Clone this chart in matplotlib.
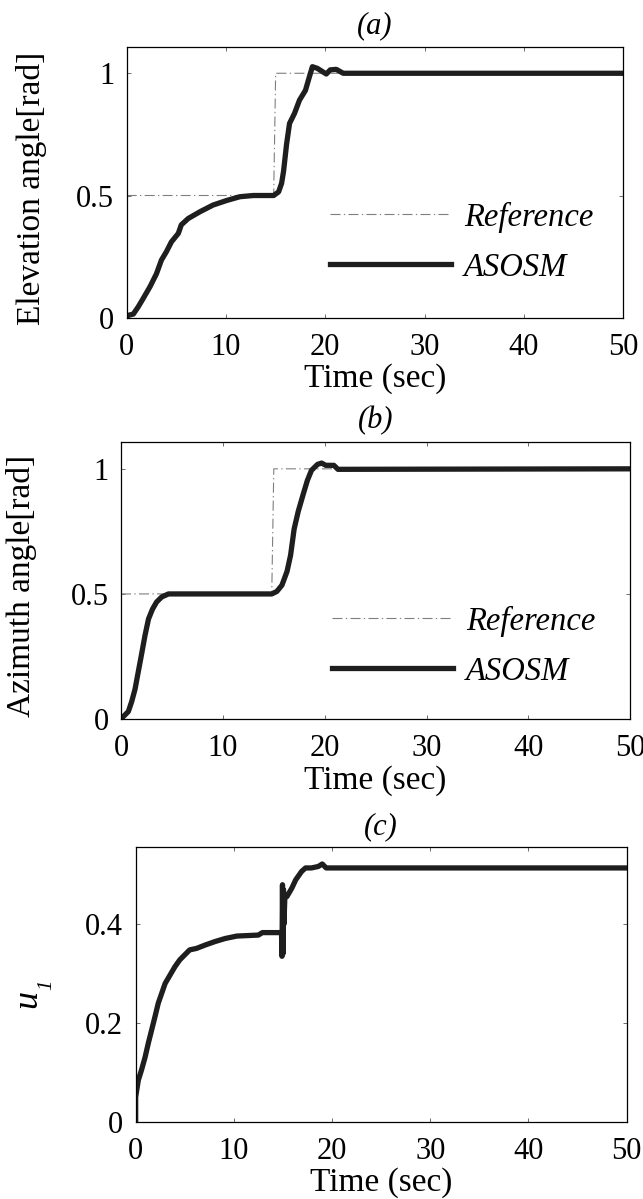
import numpy as np
import matplotlib
matplotlib.use('Agg')
import matplotlib.pyplot as plt

plt.rcParams['font.family'] = ['Liberation Serif', 'DejaVu Serif']

# referencia escalon (igual en ambos angulos)
ref_t = [0, 14.8, 15.0, 50]
ref_y = [0.5, 0.5, 1.0, 1.0]

# angulo de elevacion con ASOSM
elev_t = [0, 0.17, 0.67, 1.17, 1.68, 2.35, 3.0, 3.5, 4.0, 4.5, 5.2, 5.5, 6.2, 7.4,
          8.7, 10.1, 11.4, 12.75, 14.8, 15.3, 15.6, 15.8, 16.1, 16.4, 16.9, 17.4,
          18.0, 18.4, 18.7, 19.2, 20.1, 20.5, 21.1, 21.5, 21.8, 50]
elev_y = [0, 0.01, 0.015, 0.045, 0.08, 0.127, 0.18, 0.236, 0.27, 0.31, 0.345, 0.38,
          0.406, 0.434, 0.461, 0.48, 0.495, 0.5, 0.5, 0.515, 0.55, 0.60, 0.71, 0.795,
          0.836, 0.89, 0.93, 0.986, 1.027, 1.02, 0.997, 1.014, 1.016, 1.007, 1.0, 1.0]

# angulo de azimut con ASOSM
azim_t = [0, 0.23, 0.72, 1.05, 1.38, 1.7, 2.0, 2.36, 2.7, 3.1, 3.5, 4.0, 4.66, 14.8,
          15.3, 15.8, 16.3, 16.65, 17.0, 17.4, 17.9, 18.3, 18.7, 19.3, 19.7, 20.1,
          20.9, 21.3, 50]
azim_y = [0, 0.01, 0.03, 0.07, 0.12, 0.19, 0.255, 0.335, 0.40, 0.44, 0.468, 0.488,
          0.5, 0.5, 0.51, 0.535, 0.59, 0.655, 0.76, 0.83, 0.90, 0.954, 0.994, 1.018,
          1.023, 1.014, 1.014, 0.998, 1.0]

# senal de control u1
u1_t = [0, 0, 0.27, 0.6, 0.95, 1.3, 1.63, 1.97, 2.3, 2.65, 3.0, 3.5, 4.0, 4.5, 5.0,
        5.5, 6.2, 7.1, 8.1, 9.1, 10.3, 12.5, 12.9, 14.85, 14.9, 14.95, 15.0, 15.05,
        15.1, 15.2, 15.4, 15.9, 16.3, 16.9, 17.3, 17.9, 18.6, 19.0, 19.4, 50]
u1_y = [0, 0.05, 0.084, 0.105, 0.13, 0.16, 0.186, 0.213, 0.24, 0.26, 0.28, 0.297,
        0.314, 0.328, 0.338, 0.348, 0.351, 0.358, 0.365, 0.371, 0.376, 0.378, 0.383,
        0.383, 0.335, 0.48, 0.34, 0.47, 0.40, 0.46, 0.456, 0.473, 0.49, 0.507, 0.514,
        0.514, 0.517, 0.522, 0.514, 0.514]

FS = 22
LFS = 24
dash = (0, (9, 3, 1.2, 3))
line_col = '#1e1e1e'
ref_col = '#7f7f7f'

fig = plt.figure(figsize=(6.43, 11.99), dpi=100)


def style(ax, ylim, yticks, ylabels):
    ax.set_xlim(0, 50)
    ax.set_ylim(*ylim)
    ax.set_xticks([0, 10, 20, 30, 40, 50])
    ax.set_yticks(yticks)
    ax.set_yticklabels(ylabels)
    ax.tick_params(direction='in', length=3, width=0.6, labelsize=FS,
                   top=True, right=True, color='#555555')
    ax.tick_params(axis='x', pad=11)
    ax.tick_params(axis='y', pad=9)
    for s in ax.spines.values():
        s.set_linewidth(0.9)
    ax.set_xlabel('Time (sec)', fontsize=LFS, labelpad=1)


def add_legend(ax, x, y):
    ax.legend(loc='upper left', bbox_to_anchor=(x, y), frameon=False,
              prop={'style': 'italic', 'size': 23.5}, handlelength=3.7,
              handletextpad=0.4, labelspacing=0.6, borderpad=0, borderaxespad=0)


ax1 = fig.add_axes([0.197, 0.735, 0.7723, 0.2255])
ax1.plot(ref_t, ref_y, color=ref_col, lw=0.8, linestyle=dash, label='Reference')
ax1.plot(elev_t, elev_y, color=line_col, lw=3.8, label='ASOSM')
style(ax1, (0, 1.106), [0, 0.5, 1], ['0', '0.5', '1'])
ax1.set_title('(a)', fontsize=FS, style='italic', pad=10)
ax1.set_ylabel('Elevation angle[rad]', fontsize=LFS)
ax1.yaxis.set_label_coords(-0.16, 0.48)
add_legend(ax1, 0.41, 0.43)

ax2 = fig.add_axes([0.1882, 0.4003, 0.792, 0.2308])
ax2.plot(ref_t, ref_y, color=ref_col, lw=0.8, linestyle=dash, label='Reference')
ax2.plot(azim_t, azim_y, color=line_col, lw=3.8, label='ASOSM')
style(ax2, (0, 1.106), [0, 0.5, 1], ['0', '0.5', '1'])
ax2.set_title('(b)', fontsize=FS, style='italic', pad=10)
ax2.set_ylabel('Azimuth angle[rad]', fontsize=LFS)
ax2.yaxis.set_label_coords(-0.165, 0.48)
add_legend(ax2, 0.415, 0.41)

ax3 = fig.add_axes([0.211, 0.0645, 0.7636, 0.2289])
ax3.plot(u1_t, u1_y, color=line_col, lw=3.8)
style(ax3, (0, 0.556), [0, 0.2, 0.4], ['0', '0.2', '0.4'])
ax3.set_title('(c)', fontsize=FS, style='italic', pad=9)
# u con subindice 1 en cursiva
ax3.set_ylabel('u', fontsize=26, style='italic')
ax3.yaxis.set_label_coords(-0.187, 0.447)
ax3.text(-0.182, 0.498, '1', rotation=90, style='italic', fontsize=15,
         ha='center', va='center', transform=ax3.transAxes)

fig.savefig('out.png', dpi=100)
